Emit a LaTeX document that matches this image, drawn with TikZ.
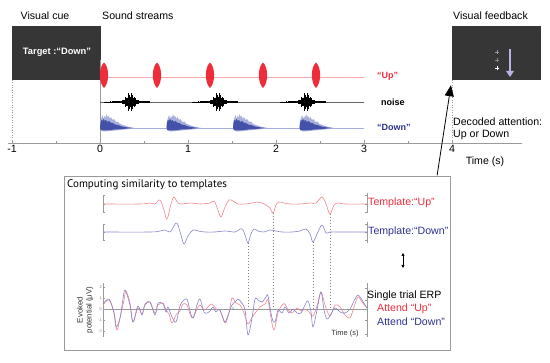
\documentclass[tikz,border=0pt]{standalone}
\usepackage{fontspec}
\setmainfont{Liberation Sans}
\newfontfamily\myriad{PT Sans}
\usetikzlibrary{arrows.meta}
\definecolor{boxgray}{HTML}{363636}
\definecolor{redc}{HTML}{EE2D3A}
\definecolor{redl}{HTML}{F7A8AD}
\definecolor{bluec}{HTML}{2E3192}
\definecolor{bluelt}{HTML}{A9B0DC}
\definecolor{bluedk}{HTML}{4352A8}
\definecolor{bluebase}{HTML}{A8AEE0}
\definecolor{tplred}{HTML}{F0868C}
\definecolor{tplblue}{HTML}{8585CC}
\definecolor{axgray}{HTML}{9A9A9A}
\definecolor{lav}{HTML}{BDB0E6}
\tikzset{
  lbl/.style={font=\fontsize{10.6}{12}\selectfont, inner sep=0pt},
  blbl/.style={font=\bfseries\fontsize{9}{11}\selectfont, inner sep=0pt},
  tiny/.style={font=\fontsize{4}{5}\selectfont, text=gray, inner sep=0pt},
  dotv/.style={draw=axgray, line width=0.5pt, dash pattern=on 1pt off 1.5pt},
  dashv/.style={draw=gray, line width=0.5pt, dash pattern=on 1.5pt off 1.5pt},
  ax/.style={draw=axgray, line width=0.5pt},
}
\begin{document}
\begin{tikzpicture}[x=1pt,y=-1pt]
\useasboundingbox (0,0) rectangle (550,363);
% ---------- titles
\node[lbl] (vcue) at (45,16) {Visual cue};
\node[lbl, anchor=west] (sstr) at (102,16) {Sound streams};
\node[lbl, anchor=west] (vfb) at (453,16) {Visual feedback};
% ---------- target box
\fill[boxgray] (12,26) rectangle (101,80);
\node[font=\bfseries\fontsize{9.3}{11}\selectfont, text=white, inner sep=0pt] (target) at (57,52) {Target :“Down”};
% ---------- feedback box
\fill[boxgray] (452,26) rectangle (541,80);
\node[inner sep=0pt, minimum size=0pt] (fb) at (451,85) {};
\draw[gray!80, line width=0.8pt] (495,52) -- (499,52) (497,50) -- (497,54);
\draw[gray!95!white, line width=0.8pt] (495,60) -- (499,60) (497,58) -- (497,62);
\draw[white, line width=0.8pt] (495,68) -- (499,68) (497,66) -- (497,70);
\draw[lav, line width=2pt, -{Triangle[length=6pt,width=7.5pt]}] (510,49) -- (510,77);
% ---------- dotted verticals
\draw[dotv] (12,80) -- (12,143);
\draw[ax] (100,60) -- (100,143);
\draw[dotv] (452,80) -- (452,143);
% ---------- time axis
\draw[ax] (8,143) -- (522,143);
\foreach \t/\lab in {-1/-1,0/0,1/1,2/2,3/3,4/4}{
  \draw[ax] ({100+88*\t},143) -- ({100+88*\t},140);
  \node[lbl, anchor=north] at ({100+88*\t},145) {\lab};
}
\foreach \t in {-0.5,0.5,1.5,2.5,3.5}{
  \draw[ax] ({100+88*\t},143) -- ({100+88*\t},141);
}
\node[lbl] (timelab) at (485,162) {Time (s)};
% ---------- red stream
\draw[redl, line width=0.7pt] (100,77) -- (364,77);
\foreach \c in {104,157,210,263,316}{
  \fill[redc] (\c,62.5) .. controls (\c+5.5,67) and (\c+5.5,83) .. (\c,88) .. controls (\c-5.5,83) and (\c-5.5,67) .. (\c,62.5);
}
\node[blbl, anchor=west, text=redc] (up) at (377,76) {“Up”};
% ---------- noise stream
\draw[black!60, line width=0.4pt] (100,102) -- (364,102);
\foreach \c in {130,218,306}{
  \foreach \i in {-34,...,26}{
    \pgfmathsetmacro\xx{\c+\i*0.75}
    \pgfmathsetmacro\h{8*exp(-1*(\i/6)*(\i/6))*(0.35+0.65*abs(sin(\i*137.5)))+1.8*exp(-1*(\i/18)*(\i/18))*(0.4+0.6*abs(cos(\i*97)))+0.3}
    \draw[black, line width=0.35pt] (\xx,102-\h) -- (\xx,102+\h);
  }
}
\node[blbl, anchor=west] (noise) at (381,102) {noise};
% ---------- blue stream
\draw[bluebase, line width=0.6pt] (100,128) -- (364,128);
\foreach \s in {100,166.5,233,299.5}{
  \begin{scope}[shift={(\s,128)}]
  \fill[bluelt] (0,0) -- (0.5,-7) -- (1.5,-10) -- (2.5,-13) -- (3.5,-9) -- (4.5,-12) -- (5.5,-10) -- (6.5,-14) -- (7.5,-11) -- (8.5,-12) -- (10,-9) -- (11,-11) -- (12.5,-8) -- (14,-9) -- (16,-6) -- (18,-6.5) -- (20,-4) -- (23,-3) -- (27,-1.5) -- (32,-0.5) -- (35,0) -- (30,1) -- (20,2) -- (10,3) -- (3,3.5) -- cycle;
  \fill[bluedk] (0,0) -- (0.5,-5) -- (1.5,-8) -- (2.5,-7) -- (3.5,-9) -- (5,-7) -- (6,-8) -- (7.5,-6) -- (9,-7) -- (11,-5) -- (13,-5) -- (15,-3.5) -- (18,-3) -- (22,-1.5) -- (27,-0.7) -- (32,0) -- (25,0.8) -- (15,1.5) -- (6,2.5) -- (1,2.5) -- cycle;
  \end{scope}
}
\node[blbl, anchor=west, text=bluec] (down) at (377,127) {“Down”};
% ---------- decoded
\node[lbl, anchor=west, align=left] (dec) at (453,129) {Decoded attention:\\Up or Down};
% ---------- bottom box
\draw[draw=axgray, line width=0.6pt] (64,176) rectangle (450,350);
\node[inner sep=0pt] (comp) at (437,176) {};
\node[font=\myriad\fontsize{11}{13}\selectfont, anchor=west, inner sep=0pt] (ctitle) at (67,185) {Computing similarity to templates};
\draw[line width=0.8pt, -{Triangle[length=11pt,width=9pt]}] (comp) -- (fb);
% templates axes
\draw[ax] (103,195) -- (103,213) (103,195) -- (105,195) (103,204) -- (105,204) (103,212) -- (105,212);
\draw[ax] (103,224) -- (103,241) (103,224) -- (105,224) (103,232) -- (105,232) (103,240) -- (105,240);
\draw[ax] (367,193) -- (367,213) (367,195) -- (365,195) (367,204) -- (365,204) (367,212) -- (365,212);
\draw[ax] (367,222) -- (367,243) (367,224) -- (365,224) (367,232) -- (365,232) (367,240) -- (365,240);
% dashed lines
\draw[dashv] (248,243) -- (248,310);
\draw[dashv] (273,213) -- (273,310);
\draw[dashv] (313,242) -- (313,310);
\draw[dashv] (330,214) -- (330,310);
% red template
\draw[tplred, line width=0.6pt] plot[smooth, tension=0.6] coordinates {(103,204)(140,204)(150,203)(155,204)(160,200)(164,210)(167,219)(171,204)(174,197)(178,203)(183,204)(190,203)(200,204)(210,203)(214,201)(218,210)(221,217)(225,207)(229,200)(233,201)(238,204)(245,204)(252,203)(258,202)(262,203)(266,205)(270,208)(273,213)(276,205)(279,202)(284,203)(290,204)(300,204)(310,203)(316,203)(322,197)(326,204)(330,214)(334,205)(338,203)(345,204)(367,204)};
% blue template
\draw[tplblue, line width=0.6pt] plot[smooth, tension=0.6] coordinates {(103,232)(150,232)(160,231)(165,230)(170,232)(174,226)(177,223)(181,235)(184,244)(188,236)(193,230)(198,231)(205,232)(215,232)(225,231)(235,232)(240,229)(243,230)(246,238)(248,243)(251,234)(254,229)(258,231)(264,232)(270,230)(276,231)(282,232)(292,232)(300,231)(306,229)(310,234)(313,242)(317,234)(322,225)(326,233)(330,232)(340,232)(367,232)};
\node[lbl, anchor=west, text=redc] (tup) at (368,203) {Template:“Up”};
\node[lbl, anchor=west, text=bluec] (tdown) at (368,232) {Template:“Down”};
% double arrow
\draw[line width=0.6pt, {Triangle[length=3pt,width=3pt]}-{Triangle[length=3pt,width=3pt]}] (403,253) -- (403,268);
% ERP axes
\draw[ax] (103.5,283) -- (103.5,337);
\foreach \v/\yy in {2/287,1/298,0/309,-1/320,-2/331}{
  \draw[ax] (103.5,\yy) -- (105,\yy);
  \node[tiny, anchor=east] at (102,\yy) {\v};
}
\draw[ax] (103,309) -- (367,309);
\node[tiny] at (233,309) {0};
\draw[ax] (367,283) -- (367,337) (367,288) -- (365,288) (367,300) -- (365,300) (367,320) -- (365,320) (367,334) -- (365,334);
\node[rotate=90, align=center, font=\fontsize{7.8}{9}\selectfont, text=black!80, inner sep=0pt] (evoked) at (85,310) {Evoked\\potential (μV)};
\node[font=\fontsize{7.5}{9}\selectfont, text=black!80, inner sep=0pt] (tlab2) at (345,334) {Time (s)};
% ERP traces
\draw[tplred, line width=0.6pt] plot[smooth, tension=0.55] coordinates {(103,305)(109,300)(114,312)(117,330)(120,318)(124,300)(126,291)(130,303)(133,322)(138,308)(142,314)(145,305)(150,302)(155,313)(158,305)(163,303)(166,310)(169,314)(172,323)(176,315)(180,311)(183,304)(187,305)(190,314)(193,318)(197,309)(200,305)(204,310)(207,308)(211,304)(214,306)(217,310)(220,310)(225,323)(229,313)(232,298)(236,303)(240,305)(244,313)(248,324)(252,317)(256,312)(260,307)(265,304)(268,300)(271,318)(274,330)(278,313)(282,305)(285,304)(288,310)(292,313)(297,308)(301,311)(305,309)(309,312)(313,316)(317,306)(321,292)(325,305)(330,316)(335,305)(340,307)(345,315)(350,318)(354,307)(358,297)(362,302)(367,308)};
\draw[tplblue, line width=0.6pt] plot[smooth, tension=0.55] coordinates {(103,304)(109,299)(114,313)(116,327)(120,318)(123,299)(125,290)(130,305)(133,322)(138,306)(142,315)(145,304)(150,302)(155,315)(158,303)(163,304)(166,312)(168,307)(172,317)(176,322)(180,306)(183,301)(187,299)(190,311)(193,318)(197,305)(200,299)(204,312)(207,313)(210,311)(213,307)(216,312)(219,309)(222,315)(225,322)(228,315)(232,305)(236,301)(238,299)(241,302)(245,310)(248,335)(252,318)(255,299)(258,300)(262,302)(266,297)(268,296)(272,318)(275,322)(278,310)(282,313)(285,307)(289,313)(293,309)(297,313)(301,313)(305,305)(308,301)(311,312)(313,327)(317,310)(321,292)(324,310)(327,319)(331,314)(335,308)(340,312)(345,313)(350,309)(354,301)(358,295)(362,300)(367,308)};
\node[lbl, anchor=west] (single) at (367,296) {Single trial ERP};
\node[lbl, anchor=west, text=redc] (aup) at (377,309) {Attend “Up”};
\node[lbl, anchor=west, text=bluec] (adown) at (377,322) {Attend “Down”};
\end{tikzpicture}
\end{document}
